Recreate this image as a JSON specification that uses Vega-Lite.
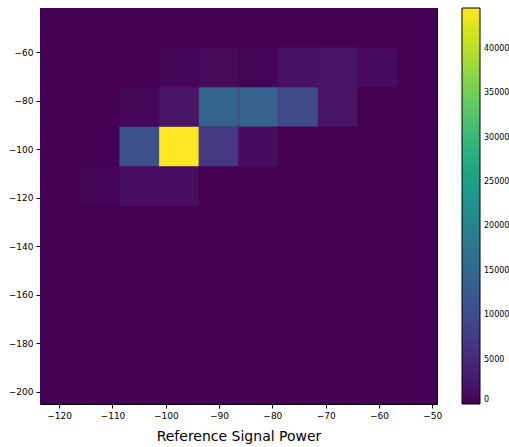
{
  "$schema": "https://vega.github.io/schema/vega-lite/v6.json",
  "width": 397,
  "height": 396,
  "autosize": {"type": "none"},
  "padding": {"left": 40, "top": 8, "right": 72, "bottom": 43},
  "background": "white",
  "config": {
    "view": {"stroke": "#000000", "strokeWidth": 1, "fill": "#440154"},
    "font": "DejaVu Sans",
    "axis": {"labelFont": "DejaVu Sans", "labelFontSize": 9, "labelColor": "#000000", "tickColor": "#000000", "tickSize": 4, "domain": false, "grid": false, "titleFont": "DejaVu Sans", "titleColor": "#000000"}
  },
  "data": {"values": [
    {"xl": -123.6, "xh": -116.15, "yl": -58.03, "yh": -41.7, "count": 0},
    {"xl": -116.15, "xh": -108.7, "yl": -58.03, "yh": -41.7, "count": 0},
    {"xl": -108.7, "xh": -101.25, "yl": -58.03, "yh": -41.7, "count": 0},
    {"xl": -101.25, "xh": -93.8, "yl": -58.03, "yh": -41.7, "count": 0},
    {"xl": -93.8, "xh": -86.35, "yl": -58.03, "yh": -41.7, "count": 0},
    {"xl": -86.35, "xh": -78.9, "yl": -58.03, "yh": -41.7, "count": 0},
    {"xl": -78.9, "xh": -71.45, "yl": -58.03, "yh": -41.7, "count": 0},
    {"xl": -71.45, "xh": -64.0, "yl": -58.03, "yh": -41.7, "count": 0},
    {"xl": -64.0, "xh": -56.55, "yl": -58.03, "yh": -41.7, "count": 0},
    {"xl": -56.55, "xh": -49.1, "yl": -58.03, "yh": -41.7, "count": 0},

    {"xl": -123.6, "xh": -116.15, "yl": -74.36, "yh": -58.03, "count": 0},
    {"xl": -116.15, "xh": -108.7, "yl": -74.36, "yh": -58.03, "count": 0},
    {"xl": -108.7, "xh": -101.25, "yl": -74.36, "yh": -58.03, "count": 0},
    {"xl": -101.25, "xh": -93.8, "yl": -74.36, "yh": -58.03, "count": 500},
    {"xl": -93.8, "xh": -86.35, "yl": -74.36, "yh": -58.03, "count": 900},
    {"xl": -86.35, "xh": -78.9, "yl": -74.36, "yh": -58.03, "count": 500},
    {"xl": -78.9, "xh": -71.45, "yl": -74.36, "yh": -58.03, "count": 2000},
    {"xl": -71.45, "xh": -64.0, "yl": -74.36, "yh": -58.03, "count": 2200},
    {"xl": -64.0, "xh": -56.55, "yl": -74.36, "yh": -58.03, "count": 1300},
    {"xl": -56.55, "xh": -49.1, "yl": -74.36, "yh": -58.03, "count": 0},

    {"xl": -123.6, "xh": -116.15, "yl": -90.69, "yh": -74.36, "count": 0},
    {"xl": -116.15, "xh": -108.7, "yl": -90.69, "yh": -74.36, "count": 0},
    {"xl": -108.7, "xh": -101.25, "yl": -90.69, "yh": -74.36, "count": 700},
    {"xl": -101.25, "xh": -93.8, "yl": -90.69, "yh": -74.36, "count": 2300},
    {"xl": -93.8, "xh": -86.35, "yl": -90.69, "yh": -74.36, "count": 14000},
    {"xl": -86.35, "xh": -78.9, "yl": -90.69, "yh": -74.36, "count": 13800},
    {"xl": -78.9, "xh": -71.45, "yl": -90.69, "yh": -74.36, "count": 9800},
    {"xl": -71.45, "xh": -64.0, "yl": -90.69, "yh": -74.36, "count": 2300},
    {"xl": -64.0, "xh": -56.55, "yl": -90.69, "yh": -74.36, "count": 0},
    {"xl": -56.55, "xh": -49.1, "yl": -90.69, "yh": -74.36, "count": 0},

    {"xl": -123.6, "xh": -116.15, "yl": -107.02, "yh": -90.69, "count": 0},
    {"xl": -116.15, "xh": -108.7, "yl": -107.02, "yh": -90.69, "count": 0},
    {"xl": -108.7, "xh": -101.25, "yl": -107.02, "yh": -90.69, "count": 11000},
    {"xl": -101.25, "xh": -93.8, "yl": -107.02, "yh": -90.69, "count": 44600},
    {"xl": -93.8, "xh": -86.35, "yl": -107.02, "yh": -90.69, "count": 7000},
    {"xl": -86.35, "xh": -78.9, "yl": -107.02, "yh": -90.69, "count": 1300},
    {"xl": -78.9, "xh": -71.45, "yl": -107.02, "yh": -90.69, "count": 0},
    {"xl": -71.45, "xh": -64.0, "yl": -107.02, "yh": -90.69, "count": 0},
    {"xl": -64.0, "xh": -56.55, "yl": -107.02, "yh": -90.69, "count": 0},
    {"xl": -56.55, "xh": -49.1, "yl": -107.02, "yh": -90.69, "count": 0},

    {"xl": -123.6, "xh": -116.15, "yl": -123.35, "yh": -107.02, "count": 0},
    {"xl": -116.15, "xh": -108.7, "yl": -123.35, "yh": -107.02, "count": 300},
    {"xl": -108.7, "xh": -101.25, "yl": -123.35, "yh": -107.02, "count": 1500},
    {"xl": -101.25, "xh": -93.8, "yl": -123.35, "yh": -107.02, "count": 1500},
    {"xl": -93.8, "xh": -86.35, "yl": -123.35, "yh": -107.02, "count": 0},
    {"xl": -86.35, "xh": -78.9, "yl": -123.35, "yh": -107.02, "count": 0},
    {"xl": -78.9, "xh": -71.45, "yl": -123.35, "yh": -107.02, "count": 0},
    {"xl": -71.45, "xh": -64.0, "yl": -123.35, "yh": -107.02, "count": 0},
    {"xl": -64.0, "xh": -56.55, "yl": -123.35, "yh": -107.02, "count": 0},
    {"xl": -56.55, "xh": -49.1, "yl": -123.35, "yh": -107.02, "count": 0},

    {"xl": -123.6, "xh": -116.15, "yl": -139.68, "yh": -123.35, "count": 0},
    {"xl": -116.15, "xh": -108.7, "yl": -139.68, "yh": -123.35, "count": 0},
    {"xl": -108.7, "xh": -101.25, "yl": -139.68, "yh": -123.35, "count": 0},
    {"xl": -101.25, "xh": -93.8, "yl": -139.68, "yh": -123.35, "count": 0},
    {"xl": -93.8, "xh": -86.35, "yl": -139.68, "yh": -123.35, "count": 0},
    {"xl": -86.35, "xh": -78.9, "yl": -139.68, "yh": -123.35, "count": 0},
    {"xl": -78.9, "xh": -71.45, "yl": -139.68, "yh": -123.35, "count": 0},
    {"xl": -71.45, "xh": -64.0, "yl": -139.68, "yh": -123.35, "count": 0},
    {"xl": -64.0, "xh": -56.55, "yl": -139.68, "yh": -123.35, "count": 0},
    {"xl": -56.55, "xh": -49.1, "yl": -139.68, "yh": -123.35, "count": 0},

    {"xl": -123.6, "xh": -116.15, "yl": -156.01, "yh": -139.68, "count": 0},
    {"xl": -116.15, "xh": -108.7, "yl": -156.01, "yh": -139.68, "count": 0},
    {"xl": -108.7, "xh": -101.25, "yl": -156.01, "yh": -139.68, "count": 0},
    {"xl": -101.25, "xh": -93.8, "yl": -156.01, "yh": -139.68, "count": 0},
    {"xl": -93.8, "xh": -86.35, "yl": -156.01, "yh": -139.68, "count": 0},
    {"xl": -86.35, "xh": -78.9, "yl": -156.01, "yh": -139.68, "count": 0},
    {"xl": -78.9, "xh": -71.45, "yl": -156.01, "yh": -139.68, "count": 0},
    {"xl": -71.45, "xh": -64.0, "yl": -156.01, "yh": -139.68, "count": 0},
    {"xl": -64.0, "xh": -56.55, "yl": -156.01, "yh": -139.68, "count": 0},
    {"xl": -56.55, "xh": -49.1, "yl": -156.01, "yh": -139.68, "count": 0},

    {"xl": -123.6, "xh": -116.15, "yl": -172.34, "yh": -156.01, "count": 0},
    {"xl": -116.15, "xh": -108.7, "yl": -172.34, "yh": -156.01, "count": 0},
    {"xl": -108.7, "xh": -101.25, "yl": -172.34, "yh": -156.01, "count": 0},
    {"xl": -101.25, "xh": -93.8, "yl": -172.34, "yh": -156.01, "count": 0},
    {"xl": -93.8, "xh": -86.35, "yl": -172.34, "yh": -156.01, "count": 0},
    {"xl": -86.35, "xh": -78.9, "yl": -172.34, "yh": -156.01, "count": 0},
    {"xl": -78.9, "xh": -71.45, "yl": -172.34, "yh": -156.01, "count": 0},
    {"xl": -71.45, "xh": -64.0, "yl": -172.34, "yh": -156.01, "count": 0},
    {"xl": -64.0, "xh": -56.55, "yl": -172.34, "yh": -156.01, "count": 0},
    {"xl": -56.55, "xh": -49.1, "yl": -172.34, "yh": -156.01, "count": 0},

    {"xl": -123.6, "xh": -116.15, "yl": -188.67, "yh": -172.34, "count": 0},
    {"xl": -116.15, "xh": -108.7, "yl": -188.67, "yh": -172.34, "count": 0},
    {"xl": -108.7, "xh": -101.25, "yl": -188.67, "yh": -172.34, "count": 0},
    {"xl": -101.25, "xh": -93.8, "yl": -188.67, "yh": -172.34, "count": 0},
    {"xl": -93.8, "xh": -86.35, "yl": -188.67, "yh": -172.34, "count": 0},
    {"xl": -86.35, "xh": -78.9, "yl": -188.67, "yh": -172.34, "count": 0},
    {"xl": -78.9, "xh": -71.45, "yl": -188.67, "yh": -172.34, "count": 0},
    {"xl": -71.45, "xh": -64.0, "yl": -188.67, "yh": -172.34, "count": 0},
    {"xl": -64.0, "xh": -56.55, "yl": -188.67, "yh": -172.34, "count": 0},
    {"xl": -56.55, "xh": -49.1, "yl": -188.67, "yh": -172.34, "count": 0},

    {"xl": -123.6, "xh": -116.15, "yl": -205.0, "yh": -188.67, "count": 0},
    {"xl": -116.15, "xh": -108.7, "yl": -205.0, "yh": -188.67, "count": 0},
    {"xl": -108.7, "xh": -101.25, "yl": -205.0, "yh": -188.67, "count": 0},
    {"xl": -101.25, "xh": -93.8, "yl": -205.0, "yh": -188.67, "count": 0},
    {"xl": -93.8, "xh": -86.35, "yl": -205.0, "yh": -188.67, "count": 0},
    {"xl": -86.35, "xh": -78.9, "yl": -205.0, "yh": -188.67, "count": 0},
    {"xl": -78.9, "xh": -71.45, "yl": -205.0, "yh": -188.67, "count": 0},
    {"xl": -71.45, "xh": -64.0, "yl": -205.0, "yh": -188.67, "count": 0},
    {"xl": -64.0, "xh": -56.55, "yl": -205.0, "yh": -188.67, "count": 0},
    {"xl": -56.55, "xh": -49.1, "yl": -205.0, "yh": -188.67, "count": 0}
  ]},
  "mark": {"type": "rect", "strokeWidth": 0},
  "encoding": {
    "x": {"field": "xl", "type": "quantitative",
      "scale": {"domain": [-123.6, -49.1], "nice": false, "zero": false},
      "axis": {"values": [-120, -110, -100, -90, -80, -70, -60, -50], "labelExpr": "replace(format(datum.value, 'd'), '-', '\u2212')", "title": "Reference Signal Power", "titleFontSize": 14, "titleFontWeight": "normal", "titlePadding": 9, "labelPadding": 3}},
    "x2": {"field": "xh"},
    "y": {"field": "yl", "type": "quantitative",
      "scale": {"domain": [-205, -41.7], "nice": false, "zero": false},
      "axis": {"values": [-200, -180, -160, -140, -120, -100, -80, -60], "labelExpr": "replace(format(datum.value, 'd'), '-', '\u2212')", "title": null, "labelPadding": 3}},
    "y2": {"field": "yh"},
    "color": {"field": "count", "type": "quantitative",
      "scale": {"scheme": "viridis", "domain": [0, 44600], "nice": false},
      "legend": {"orient": "none", "legendX": 422, "legendY": 0, "direction": "vertical", "title": null,
        "gradientLength": 396, "gradientThickness": 18, "gradientStrokeColor": "#000000", "gradientStrokeWidth": 1,
        "values": [0, 5000, 10000, 15000, 20000, 25000, 30000, 35000, 40000],
        "labelFont": "DejaVu Sans", "labelFontSize": 8, "labelColor": "#000000", "labelOverlap": false, "labelOffset": 4, "format": "d"}}
  }
}
